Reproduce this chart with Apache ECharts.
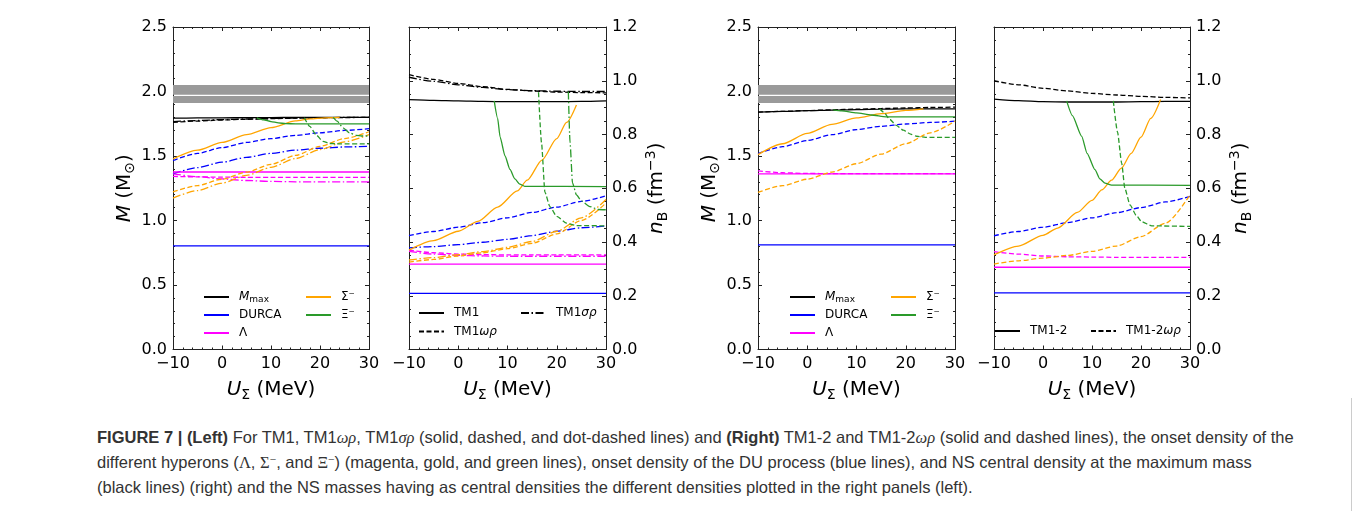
<!DOCTYPE html>
<html>
<head>
<meta charset="utf-8">
<script src="https://cdn.jsdelivr.net/npm/echarts@6/dist/echarts.min.js"></script>
<style>
body { margin: 0; background: #fff; }
#chart { position: absolute; left: 0; top: 0; width: 1363px; height: 400px; }
#caption {
  position: absolute; left: 97px; top: 425px;
  font: 16.5px/24px "Liberation Sans", Arial, sans-serif; color: #333; white-space: nowrap;
}
#caption .m { font-family: "Liberation Serif", serif; }
#caption i { font-family: "Liberation Serif", serif; }
#caption sup { font-size: 0.7em; line-height: 0; vertical-align: 0.45em; }
#frame { position: absolute; left: 1351px; top: 398px; width: 1px; height: 113px; background: #ccc; }
</style>
</head>
<body>
<div id="chart"></div>
<div id="frame"></div>
<div id="caption">
<b>FIGURE 7 | (Left)</b> For TM1, TM1<i>ωρ</i>, TM1<i>σρ</i> (solid, dashed, and dot-dashed lines) and <b>(Right)</b> TM1-2 and TM1-2<i>ωρ</i> (solid and dashed lines), the onset density of the<br>
different hyperons (<span class="m">Λ</span>, <span class="m">Σ<sup>−</sup></span>, and <span class="m">Ξ<sup>−</sup></span>) (magenta, gold, and green lines), onset density of the DU process (blue lines), and NS central density at the maximum mass<br>
(black lines) (right) and the NS masses having as central densities the different densities plotted in the right panels (left).
</div>
<script>
// U_Sigma (MeV), curves sampled every 5 MeV
const U = [-10, -5, 0, 5, 10, 15, 20, 25, 30];
// 2 Msun observational band (two strips)
const BAND = [[1.91, 1.965], [1.975, 2.05]];

// ---------- TM1 family, masses (Msun) ----------
const mMax_TM1   = [1.793, 1.795, 1.796, 1.797, 1.798, 1.799, 1.800, 1.800, 1.800];
const mMax_TM1wr = [1.760, 1.771, 1.779, 1.785, 1.789, 1.793, 1.796, 1.798, 1.800];
const mMax_TM1sr = [1.766, 1.775, 1.782, 1.787, 1.791, 1.794, 1.797, 1.799, 1.800];
const mDU_TM1    = [0.803, 0.803, 0.803, 0.803, 0.803, 0.803, 0.803, 0.803, 0.803];
const mDU_TM1wr  = [1.465, 1.520, 1.565, 1.605, 1.635, 1.660, 1.680, 1.698, 1.712];
const mDU_TM1sr  = [1.362, 1.410, 1.452, 1.490, 1.520, 1.545, 1.560, 1.570, 1.575];
const mL_TM1     = [1.376, 1.376, 1.376, 1.376, 1.376, 1.376, 1.376, 1.376, 1.376];
const mL_TM1wr   = [1.342, 1.338, 1.336, 1.335, 1.335, 1.335, 1.335, 1.335, 1.335];
const mL_TM1sr   = [1.362, 1.340, 1.322, 1.310, 1.303, 1.300, 1.300, 1.300, 1.300];
const mS_TM1     = [[-10, 1.477], [-5, 1.545], [0, 1.605], [5, 1.665], [10, 1.72], [15, 1.772], [18, 1.788], [21, 1.796], [24, 1.799]];
const mS_TM1wr   = [1.222, 1.270, 1.320, 1.375, 1.435, 1.505, 1.575, 1.635, 1.688];
const mS_TM1sr   = [1.174, 1.232, 1.290, 1.350, 1.412, 1.480, 1.550, 1.610, 1.665];
const mX_TM1     = [[7.1, 1.796], [8.5, 1.78], [10, 1.767], [11.5, 1.757], [13, 1.751], [15, 1.749], [30, 1.749]];
const mX_TM1wr   = [[16.8, 1.797], [17.9, 1.73], [19.3, 1.66], [20.6, 1.614], [22, 1.597], [23.5, 1.594], [30, 1.594]];
const mX_TM1sr   = [[22.7, 1.80], [23.5, 1.77], [24.7, 1.718], [26, 1.68], [27.4, 1.66], [28.5, 1.655], [30, 1.655]];

// ---------- TM1 family, densities (fm^-3) ----------
const nMax_TM1   = [0.930, 0.927, 0.925, 0.923, 0.922, 0.922, 0.922, 0.923, 0.925];
const nMax_TM1wr = [1.023, 1.005, 0.990, 0.978, 0.968, 0.962, 0.958, 0.956, 0.955];
const nMax_TM1sr = [1.013, 0.998, 0.985, 0.975, 0.967, 0.963, 0.961, 0.960, 0.960];
const nDU_TM1    = [0.209, 0.209, 0.209, 0.209, 0.209, 0.209, 0.209, 0.209, 0.209];
const nDU_TM1wr  = [0.424, 0.439, 0.455, 0.472, 0.490, 0.510, 0.530, 0.551, 0.572];
const nDU_TM1sr  = [0.378, 0.383, 0.390, 0.399, 0.410, 0.424, 0.440, 0.453, 0.460];
const nL_TM1     = [0.318, 0.318, 0.318, 0.318, 0.318, 0.318, 0.318, 0.318, 0.318];
const nL_TM1wr   = [0.370, 0.360, 0.355, 0.353, 0.352, 0.352, 0.352, 0.352, 0.352];
const nL_TM1sr   = [0.365, 0.355, 0.350, 0.348, 0.347, 0.347, 0.347, 0.347, 0.347];
const nS_TM1     = [[-10, 0.37], [-5, 0.405], [0, 0.44], [4, 0.477], [8, 0.53], [12, 0.59], [14, 0.63], [17, 0.705], [20, 0.785], [22, 0.845], [24, 0.91]];
const nS_TM1wr   = [0.325, 0.335, 0.348, 0.360, 0.375, 0.395, 0.430, 0.480, 0.545];
const nS_TM1sr   = [0.333, 0.342, 0.353, 0.364, 0.380, 0.402, 0.440, 0.490, 0.558];
const nX_TM1     = [[7.3, 0.925], [8, 0.86], [8.5, 0.79], [9.5, 0.72], [10.5, 0.67], [11.5, 0.635], [12.5, 0.615], [13.5, 0.607], [30, 0.606]];
const nX_TM1wr   = [[16.3, 0.957], [16.9, 0.77], [17.6, 0.585], [18.6, 0.532], [20, 0.495], [22, 0.47], [24, 0.461], [30, 0.46]];
const nX_TM1sr   = [[22.35, 0.96], [22.7, 0.77], [23.2, 0.62], [24, 0.575], [25, 0.553], [26.7, 0.532], [28.4, 0.521], [30, 0.52]];

// ---------- TM1-2 family, masses ----------
const mMax_12   = [1.840, 1.846, 1.851, 1.856, 1.860, 1.863, 1.865, 1.866, 1.866];
const mMax_12wr = [1.840, 1.846, 1.852, 1.858, 1.863, 1.868, 1.872, 1.876, 1.879];
const mDU_12    = [0.811, 0.811, 0.811, 0.811, 0.811, 0.811, 0.811, 0.811, 0.811];
const mDU_12wr  = [1.519, 1.572, 1.620, 1.665, 1.705, 1.730, 1.748, 1.760, 1.770];
const mL_12     = [1.361, 1.361, 1.361, 1.361, 1.361, 1.361, 1.361, 1.361, 1.361];
const mL_12wr   = [1.385, 1.370, 1.365, 1.363, 1.363, 1.363, 1.363, 1.363, 1.363];
const mS_12     = [[-10, 1.511], [-5, 1.595], [0, 1.675], [5, 1.745], [10, 1.795], [15, 1.828], [20, 1.853], [23.6, 1.866]];
const mS_12wr   = [1.218, 1.270, 1.320, 1.375, 1.440, 1.515, 1.595, 1.680, 1.770];
const mX_12     = [[5.25, 1.858], [7, 1.85], [10, 1.835], [13, 1.818], [16, 1.804], [30, 1.804]];
const mX_12wr   = [[14.7, 1.866], [15.5, 1.84], [16.8, 1.783], [18, 1.74], [19.5, 1.70], [21, 1.67], [22.2, 1.653], [24, 1.645], [30, 1.645]];

// ---------- TM1-2 family, densities ----------
const nMax_12   = [0.932, 0.926, 0.922, 0.921, 0.921, 0.921, 0.922, 0.923, 0.923];
const nMax_12wr = [1.000, 0.985, 0.972, 0.962, 0.953, 0.947, 0.942, 0.938, 0.936];
const nDU_12    = [0.211, 0.211, 0.211, 0.211, 0.211, 0.211, 0.211, 0.211, 0.211];
const nDU_12wr  = [0.423, 0.439, 0.455, 0.472, 0.490, 0.509, 0.528, 0.549, 0.570];
const nL_12     = [0.306, 0.306, 0.306, 0.306, 0.306, 0.306, 0.306, 0.306, 0.306];
const nL_12wr   = [0.364, 0.355, 0.348, 0.345, 0.344, 0.343, 0.343, 0.343, 0.343];
const nS_12     = [[-10, 0.352], [-5, 0.385], [0, 0.425], [3, 0.452], [7, 0.51], [10, 0.555], [12, 0.594], [14, 0.63], [16, 0.675], [18, 0.73], [20, 0.79], [22, 0.86], [24, 0.93]];
const nS_12wr   = [0.318, 0.330, 0.340, 0.350, 0.365, 0.385, 0.420, 0.470, 0.575];
const nX_12     = [[4.83, 0.925], [6, 0.87], [7.9, 0.793], [9, 0.73], [10.6, 0.669], [11.6, 0.635], [12.65, 0.619], [14, 0.612], [30, 0.611]];
const nX_12wr   = [[14.35, 0.925], [15.2, 0.81], [16.05, 0.694], [16.7, 0.6], [17.76, 0.538], [19, 0.5], [20.1, 0.476], [22.2, 0.46], [30, 0.458]];

const FONT = 'DejaVu Sans';
const C = { max: '#000000', du: '#0000ff', lam: '#ff00ff', sig: '#ffa500', xi: '#2a9a2a' };
const SOLID = 'solid', DASH = [5, 2.5], DOTDASH = [8, 2.5, 1.5, 2.5];

// grid boxes in pixels (left, width)
const GRIDS = [[173, 196], [409, 197], [758, 197], [994, 196]];

const zip = ys => U.map((u, i) => [u, ys[i]]);

function line(name, g, data, color, type, smooth) {
  return {
    name: name, type: 'line', xAxisIndex: g * 2, yAxisIndex: g * 2 + (g % 2),
    data: data, symbol: 'none', showSymbol: false, silent: true,
    smooth: smooth === undefined ? 0.25 : smooth, smoothMonotone: 'x',
    lineStyle: { color: color, width: 1.3, type: type }, itemStyle: { color: color }
  };
}

const axLine = { show: true, onZero: false, lineStyle: { color: '#222', width: 1 } };
const axTick = { show: true, inside: true, length: 4, lineStyle: { color: '#222', width: 1 } };

function xAxes(g) {
  const base = {
    type: 'value', gridIndex: g, min: -10, max: 30, interval: 10,
    axisLine: axLine, axisTick: axTick, splitLine: { show: false },
    minorTick: { show: true, splitNumber: 5, length: 2, lineStyle: { color: '#222', width: 1 } }
  };
  return [
    Object.assign({}, base, {
      position: 'bottom',
      axisLabel: { fontSize: 16, color: '#000', fontFamily: FONT, margin: 6,
        formatter: v => (v < 0 ? '\u2212' + (-v) : '' + v) },
      name: '{i|U}{s|Σ} (MeV)', nameLocation: 'middle', nameGap: 16,
      nameTextStyle: { fontSize: 20, color: '#000', fontFamily: FONT, lineHeight: 26,
        rich: { i: { fontStyle: 'italic', fontSize: 20, lineHeight: 26, fontFamily: FONT },
                s: { fontSize: 14, lineHeight: 26, verticalAlign: 'bottom', fontFamily: FONT } } }
    }),
    Object.assign({}, base, { position: 'top', axisLabel: { show: false } })
  ];
}

function yAxes(g) {
  const mass = g % 2 === 0;
  const base = {
    type: 'value', gridIndex: g, min: 0, max: mass ? 2.5 : 1.2, interval: mass ? 0.5 : 0.2,
    axisLine: axLine, axisTick: axTick, splitLine: { show: false },
    minorTick: { show: true, splitNumber: mass ? 5 : 4, length: 2, lineStyle: { color: '#222', width: 1 } }
  };
  const lab = { fontSize: 16, color: '#000', fontFamily: FONT, margin: 6, formatter: v => v.toFixed(1) };
  const nameStyle = { fontSize: 20, color: '#000', fontFamily: FONT, lineHeight: 26,
    rich: { i: { fontStyle: 'italic', fontSize: 20, lineHeight: 26, fontFamily: FONT },
            s: { fontSize: 14, lineHeight: 26, verticalAlign: 'bottom', fontFamily: FONT },
            p: { fontSize: 14, lineHeight: 26, verticalAlign: 'top', fontFamily: FONT } } };
  const left = Object.assign({}, base, { position: 'left', axisLabel: mass ? lab : { show: false } });
  const right = Object.assign({}, base, { position: 'right', axisLabel: mass ? { show: false } : lab });
  if (mass) Object.assign(left, { name: '{i|M} (M{s|⊙})', nameLocation: 'middle', nameGap: 29, nameRotate: 90, nameTextStyle: nameStyle });
  else Object.assign(right, { name: '{i|n}{s|B} (fm{p|\u22123})', nameLocation: 'middle', nameGap: 38, nameRotate: 90, nameTextStyle: nameStyle });
  return [left, right];
}

function legendText(name) {
  if (name === 'Mmax') return '{i|M}{s|max}';
  return name.replace('ωρ', '{i|ωρ}').replace('σρ', '{i|σρ}');
}

function legend(names, left, top, orient, gap) {
  return {
    data: names, left: left, top: top, orient: orient || 'vertical',
    itemWidth: 25, itemHeight: 12, itemGap: gap || 4, padding: 0, selectedMode: false,
    formatter: legendText,
    itemStyle: { opacity: 0 },   // line only, no marker
    textStyle: { fontSize: 12, color: '#000', fontFamily: FONT, lineHeight: 14, padding: [0, 0, 0, 5],
      rich: { i: { fontStyle: 'italic', fontSize: 12, lineHeight: 14, fontFamily: FONT },
              s: { fontSize: 9, lineHeight: 9, padding: [5, 0, 0, 0], verticalAlign: 'bottom', fontFamily: FONT } } }
  };
}

const band = {
  silent: true, itemStyle: { color: '#9a9a9a' },
  data: BAND.map(b => [{ yAxis: b[0] }, { yAxis: b[1] }])
};

const series = [
  // left masses
  Object.assign(line('Mmax', 0, zip(mMax_TM1), C.max, SOLID), { markArea: band }),
  line('M max TM1wr', 0, zip(mMax_TM1wr), C.max, DASH),
  line('M max TM1sr', 0, zip(mMax_TM1sr), C.max, DOTDASH),
  line('DURCA', 0, zip(mDU_TM1), C.du, SOLID),
  line('M DU TM1wr', 0, zip(mDU_TM1wr), C.du, DASH),
  line('M DU TM1sr', 0, zip(mDU_TM1sr), C.du, DOTDASH),
  line('Λ', 0, zip(mL_TM1), C.lam, SOLID),
  line('M L TM1wr', 0, zip(mL_TM1wr), C.lam, DASH),
  line('M L TM1sr', 0, zip(mL_TM1sr), C.lam, DOTDASH),
  line('Σ⁻', 0, mS_TM1, C.sig, SOLID),
  line('M S TM1wr', 0, zip(mS_TM1wr), C.sig, DASH),
  line('M S TM1sr', 0, zip(mS_TM1sr), C.sig, DOTDASH),
  line('Ξ⁻', 0, mX_TM1, C.xi, SOLID, 0.2),
  line('M X TM1wr', 0, mX_TM1wr, C.xi, DASH, 0.2),
  line('M X TM1sr', 0, mX_TM1sr, C.xi, DOTDASH, 0.2),
  // left densities
  line('TM1', 1, zip(nMax_TM1), C.max, SOLID),
  line('TM1ωρ', 1, zip(nMax_TM1wr), C.max, DASH),
  line('TM1σρ', 1, zip(nMax_TM1sr), C.max, DOTDASH),
  line('n DU TM1', 1, zip(nDU_TM1), C.du, SOLID),
  line('n DU TM1wr', 1, zip(nDU_TM1wr), C.du, DASH),
  line('n DU TM1sr', 1, zip(nDU_TM1sr), C.du, DOTDASH),
  line('n L TM1', 1, zip(nL_TM1), C.lam, SOLID),
  line('n L TM1wr', 1, zip(nL_TM1wr), C.lam, DASH),
  line('n L TM1sr', 1, zip(nL_TM1sr), C.lam, DOTDASH),
  line('n S TM1', 1, nS_TM1, C.sig, SOLID),
  line('n S TM1wr', 1, zip(nS_TM1wr), C.sig, DASH),
  line('n S TM1sr', 1, zip(nS_TM1sr), C.sig, DOTDASH),
  line('n X TM1', 1, nX_TM1, C.xi, SOLID, 0.2),
  line('n X TM1wr', 1, nX_TM1wr, C.xi, DASH, 0.2),
  line('n X TM1sr', 1, nX_TM1sr, C.xi, DOTDASH, 0.2),
  // right masses
  Object.assign(line('M max 12', 2, zip(mMax_12), C.max, SOLID), { markArea: band }),
  line('M max 12wr', 2, zip(mMax_12wr), C.max, DASH),
  line('M DU 12', 2, zip(mDU_12), C.du, SOLID),
  line('M DU 12wr', 2, zip(mDU_12wr), C.du, DASH),
  line('M L 12', 2, zip(mL_12), C.lam, SOLID),
  line('M L 12wr', 2, zip(mL_12wr), C.lam, DASH),
  line('M S 12', 2, mS_12, C.sig, SOLID),
  line('M S 12wr', 2, zip(mS_12wr), C.sig, DASH),
  line('M X 12', 2, mX_12, C.xi, SOLID, 0.2),
  line('M X 12wr', 2, mX_12wr, C.xi, DASH, 0.2),
  // right densities
  line('TM1-2', 3, zip(nMax_12), C.max, SOLID),
  line('TM1-2ωρ', 3, zip(nMax_12wr), C.max, DASH),
  line('n DU 12', 3, zip(nDU_12), C.du, SOLID),
  line('n DU 12wr', 3, zip(nDU_12wr), C.du, DASH),
  line('n L 12', 3, zip(nL_12), C.lam, SOLID),
  line('n L 12wr', 3, zip(nL_12wr), C.lam, DASH),
  line('n S 12', 3, nS_12, C.sig, SOLID),
  line('n S 12wr', 3, zip(nS_12wr), C.sig, DASH),
  line('n X 12', 3, nX_12, C.xi, SOLID, 0.2),
  line('n X 12wr', 3, nX_12wr, C.xi, DASH, 0.2)
];

const chart = echarts.init(document.getElementById('chart'));
chart.setOption({
  animation: false,
  textStyle: { fontFamily: FONT },
  grid: GRIDS.map(g => ({ left: g[0], top: 27, width: g[1], height: 322.5, containLabel: false, outerBoundsMode: 'none' })),
  xAxis: [0, 1, 2, 3].map(xAxes).flat(),
  yAxis: [0, 1, 2, 3].map(yAxes).flat(),
  legend: [
    legend(['Mmax', 'DURCA', 'Λ'], 203, 290),
    legend(['Σ⁻', 'Ξ⁻'], 305, 290),
    legend(['TM1', 'TM1ωρ'], 418, 306, 'vertical', 4.4),
    legend(['TM1σρ'], 520, 306),
    legend(['Mmax', 'DURCA', 'Λ'], 789, 290),
    legend(['Σ⁻', 'Ξ⁻'], 890, 290),
    legend(['TM1-2'], 994, 324),
    legend(['TM1-2ωρ'], 1090, 324)
  ],
  series: series
});
</script>
</body>
</html>
